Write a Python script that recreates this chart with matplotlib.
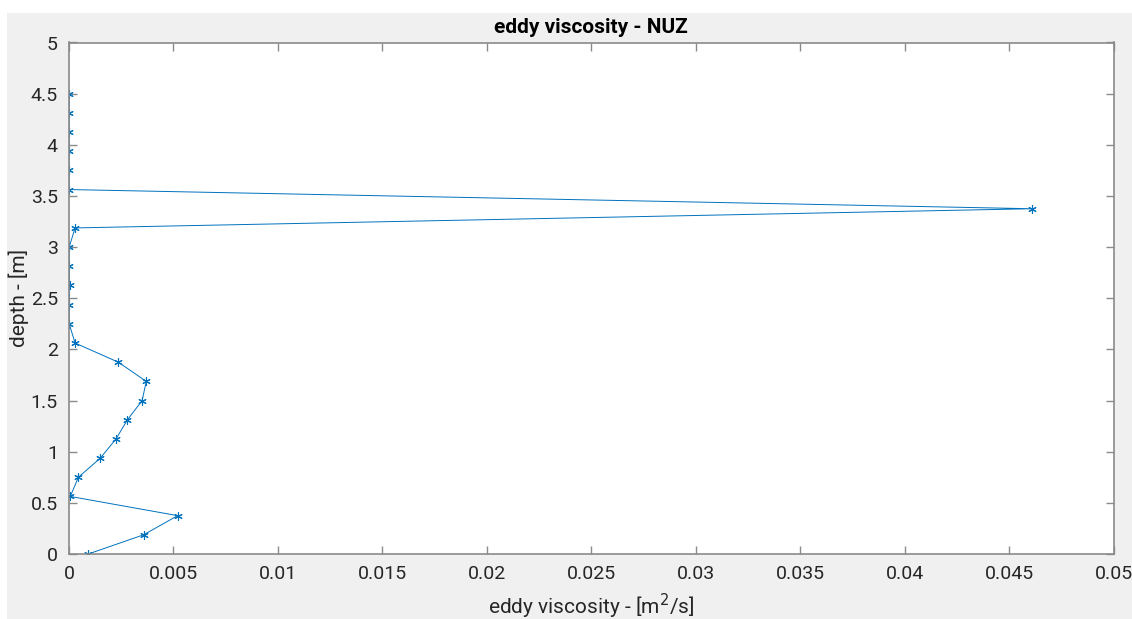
import numpy as np
import matplotlib.pyplot as plt
from matplotlib.patches import Rectangle

# depth levels [m]
depth = [0.0, 0.1875, 0.375, 0.5625, 0.75, 0.9375, 1.125, 1.3125, 1.5, 1.6875,
         1.875, 2.0625, 2.25, 2.4375, 2.625, 2.8125, 3.0, 3.1875, 3.375, 3.5625,
         3.75, 3.9375, 4.125, 4.3125, 4.5]
# eddy viscosity [m^2/s]
nuz = [0.00092, 0.00357, 0.0052, 0.00006, 0.00045, 0.0015, 0.00225, 0.0028, 0.0035, 0.0037,
       0.00236, 0.00029, 0.00001, 0.00002, 0.00003, 0.00002, 0.00001, 0.00029, 0.0461, 0.00001,
       0.00001, 0.00001, 0.00001, 0.00001, 0.00001]

x_ticks = [0, 0.005, 0.01, 0.015, 0.02, 0.025, 0.03, 0.035, 0.04, 0.045, 0.05]
x_labels = ["0", "0.005", "0.01", "0.015", "0.02", "0.025", "0.03", "0.035", "0.04", "0.045", "0.05"]
y_ticks = [0, 0.5, 1, 1.5, 2, 2.5, 3, 3.5, 4, 4.5, 5]
y_labels = ["0", "0.5", "1", "1.5", "2", "2.5", "3", "3.5", "4", "4.5", "5"]

plt.rcParams['font.family'] = ['Roboto', 'DejaVu Sans']

fig = plt.figure(figsize=(11.32, 6.19), dpi=100, facecolor='white')
fig.patches.append(Rectangle((7 / 1132, 0), 1, (619 - 13) / 619, transform=fig.transFigure,
                             facecolor='#f0f0f0', edgecolor='none', zorder=-10))

ax = fig.add_axes([69 / 1132, (619 - 554) / 619, (1113.5 - 69) / 1132, (554 - 42.5) / 619])
# matlab style '*' marker -> asterisk
ax.plot(nuz, depth, color='#0072BD', lw=0.7, marker=(6, 2, 0), ms=6, mew=0.8)

ax.set_xlim(0, 0.05)
ax.set_ylim(0, 5)
ax.set_xticks(x_ticks)
ax.set_xticklabels(x_labels)
ax.set_yticks(y_ticks)
ax.set_yticklabels(y_labels)
ax.tick_params(direction='in', top=True, right=True, length=6, width=1, color='#8a8a8a',
               labelsize=14, labelcolor='#262626', pad=8)
for s in ax.spines.values():
    s.set_color('#8a8a8a')
    s.set_linewidth(1.2)

ax.set_xlabel("eddy viscosity - [m$^2$/s]", fontsize=15, color='#262626', labelpad=6)
ax.set_ylabel("depth - [m]", fontsize=15, color='#262626', labelpad=1)
ax.set_title("eddy viscosity - NUZ", fontsize=15, fontweight='bold', color='black', pad=7)

fig.savefig("out.png", dpi=100, facecolor=fig.get_facecolor())
